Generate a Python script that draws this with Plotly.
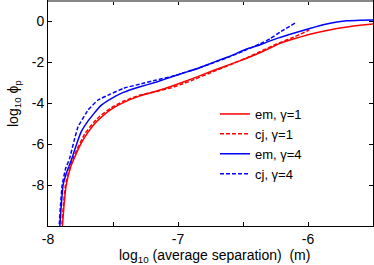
import plotly.graph_objects as go

# em, gamma=1 (red solid)
em1_x = [-7.893, -7.889, -7.877, -7.86, -7.825, -7.782, -7.74, -7.69, -7.645, -7.6, -7.523, -7.421, -7.292, -7.164, -7.05, -6.985, -6.9, -6.728, -6.6, -6.472, -6.37, -6.215, -6.113, -6.0, -5.856, -5.777, -5.7, -5.6, -5.5]
em1_y = [-10.5, -10.0, -9.0, -8.0, -7.1, -6.45, -5.9, -5.4, -5.02, -4.74, -4.33, -3.97, -3.64, -3.40, -3.17, -3.02, -2.82, -2.40, -2.10, -1.80, -1.53, -1.07, -0.86, -0.65, -0.44, -0.35, -0.27, -0.18, -0.12]

# cj, gamma=1 (red dashed)
cj1_x = [-7.898, -7.894, -7.882, -7.866, -7.835, -7.795, -7.718, -7.641, -7.6, -7.513, -7.421, -7.292, -7.164, -7.05, -6.985, -6.9, -6.728, -6.6, -6.472, -6.37, -6.24, -6.1, -5.99]
cj1_y = [-10.5, -10.0, -9.0, -8.0, -7.2, -6.5, -5.5, -4.88, -4.62, -4.22, -3.9, -3.6, -3.42, -3.24, -3.1, -2.9, -2.45, -2.12, -1.78, -1.48, -1.1, -0.74, -0.42]

# em, gamma=4 (blue solid)
em4_x = [-7.912, -7.909, -7.898, -7.884, -7.855, -7.821, -7.795, -7.769, -7.744, -7.69, -7.6, -7.523, -7.421, -7.292, -7.164, -7.036, -6.95, -6.85, -6.728, -6.6, -6.472, -6.37, -6.292, -6.215, -6.085, -5.98, -5.905, -5.856, -5.777, -5.7, -5.6, -5.5]
em4_y = [-10.5, -10.0, -9.0, -8.0, -7.35, -6.78, -6.29, -5.8, -5.39, -4.85, -4.15, -3.81, -3.47, -3.19, -2.96, -2.68, -2.5, -2.3, -2.0, -1.7, -1.35, -1.15, -0.95, -0.78, -0.53, -0.33, -0.2, -0.12, -0.03, 0.03, 0.06, 0.07]

# cj, gamma=4 (blue dashed)
cj4_x = [-7.917, -7.914, -7.904, -7.891, -7.865, -7.833, -7.80, -7.769, -7.692, -7.615, -7.523, -7.421, -7.292, -7.164, -7.036, -6.95, -6.85, -6.728, -6.6, -6.472, -6.37, -6.29, -6.215, -6.1]
cj4_y = [-10.5, -10.0, -9.0, -8.0, -7.2, -6.68, -5.85, -5.15, -4.33, -3.84, -3.56, -3.27, -3.06, -2.86, -2.67, -2.5, -2.3, -2.02, -1.72, -1.38, -1.1, -0.84, -0.52, -0.08]

series_names = ["em, γ=1", "cj, γ=1", "em, γ=4", "cj, γ=4"]

x_tickvals = [-8, -7.5, -7, -6.5, -6]
x_ticktext = ["-8", "", "-7", "", "-6"]
y_tickvals = [-10, -8, -6, -4, -2, 0]
y_ticktext = ["", "-8", "-6", "-4", "-2", "0"]

FONT = "Liberation Sans, Arial, sans-serif"

L, R, T, B = 48, 1, 1, 39
W, H = 374, 265
pw, ph = W - L - R, H - T - B


def px_to_paper(px, py):
    return (px - L) / pw, (H - B - py) / ph


fig = go.Figure()
specs = [
    (em1_x, em1_y, "#ff0000", "solid"),
    (cj1_x, cj1_y, "#ff0000", "4px,2px"),
    (em4_x, em4_y, "#0000ff", "solid"),
    (cj4_x, cj4_y, "#0000ff", "4px,2px"),
]
for (xs, ys, col, dash), name in zip(specs, series_names):
    fig.add_trace(go.Scatter(x=xs, y=ys, mode="lines", name=name,
                             line=dict(color=col, width=1.5, dash=dash, shape="spline", smoothing=0.3)))

lx, ly = px_to_paper(215, 99)
xtx, xty = px_to_paper(214, 256)
ytx, yty = px_to_paper(14, 104)

fig.update_layout(
    width=W, height=H,
    margin=dict(l=L, r=R, t=T, b=B),
    paper_bgcolor="white", plot_bgcolor="white",
    font=dict(family=FONT, size=14, color="black"),
    showlegend=True,
    legend=dict(x=lx, y=ly, xanchor="left", yanchor="top",
                bgcolor="rgba(0,0,0,0)", borderwidth=0,
                font=dict(family=FONT, size=13), tracegroupgap=0),
    xaxis=dict(range=[-8, -5.5], tickvals=x_tickvals, ticktext=x_ticktext,
               ticks="inside", ticklen=4, tickcolor="black",
               showline=True, linecolor="black", linewidth=1, mirror="ticks",
               showgrid=False, zeroline=False,
               tickfont=dict(family=FONT, size=14)),
    yaxis=dict(range=[-10, 1], tickvals=y_tickvals, ticktext=y_ticktext,
               ticks="inside", ticklen=4, tickcolor="black",
               showline=True, linecolor="black", linewidth=1, mirror="ticks",
               showgrid=False, zeroline=False,
               tickfont=dict(family=FONT, size=14)),
    annotations=[
        dict(text="log<sub>10</sub> ϕ<sub>p</sub>", x=ytx, y=yty,
             xref="paper", yref="paper", showarrow=False, textangle=-90,
             xanchor="center", yanchor="middle",
             font=dict(family=FONT, size=14)),
        dict(text="log<sub>10</sub> (average separation)  (m)", x=xtx, y=xty,
             xref="paper", yref="paper", showarrow=False,
             xanchor="center", yanchor="middle",
             font=dict(family=FONT, size=14)),
    ],
)
fig.add_shape(type="line", xref="paper", yref="paper", x0=0, x1=1, y0=1, y1=1,
              line=dict(color="#888888", width=2))

fig.write_html("out.html", config={"displayModeBar": False},
               post_script="document.body.style.margin='0';document.body.style.overflow='hidden';")
